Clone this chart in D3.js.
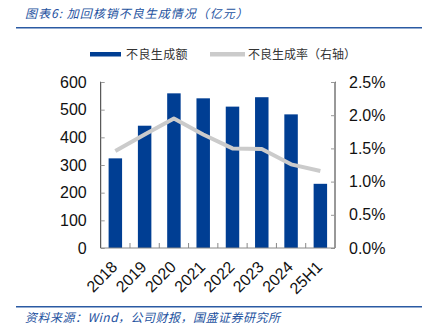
<!DOCTYPE html>
<html>
<head>
<meta charset="utf-8">
<script src="https://cdn.jsdelivr.net/npm/d3@7"></script>
<style>
  html, body { margin: 0; padding: 0; background: #fff; }
  svg { display: block; }
</style>
</head>
<body>
<svg id="chart" width="422" height="327"></svg>
<script>
// Categories and series
const years = ["2018", "2019", "2020", "2021", "2022", "2023", "2024", "25H1"];
const npl = [324, 442, 559, 541, 511, 545, 483, 232];          // 不良生成额（亿元）
const nplRate = [1.46, 1.71, 1.95, 1.71, 1.50, 1.49, 1.26, 1.16]; // 不良生成率（%）
const leftTicks = [0, 100, 200, 300, 400, 500, 600];
const rightTicks = [0, 0.5, 1.0, 1.5, 2.0, 2.5];

const svg = d3.select("#chart");
const numFont = "'Liberation Sans', Arial, sans-serif";
const cjkFont = "'Noto Sans CJK SC', sans-serif";
const blue = "#003E93";
const grey = "#CBCBCB";
const navy = "#2452A0";

const plot = { left: 100.7, right: 335, top: 82, bottom: 248 };

const x = d3.scaleBand().domain(years).range([plot.left, plot.right]).paddingInner(0.54).paddingOuter(0.27);
const xStep = d3.scaleBand().domain(years).range([plot.left, plot.right]);
const yL = d3.scaleLinear().domain([0, 600]).range([plot.bottom, plot.top]);
const yR = d3.scaleLinear().domain([0, 2.5]).range([plot.bottom, plot.top]);

// Title and header rule
svg.append("text")
  .attr("x", 25).attr("y", 17.5)
  .attr("font-family", cjkFont).attr("font-size", 12).attr("font-style", "italic")
  .attr("letter-spacing", 1).attr("fill", navy)
  .text("图表6:  加回核销不良生成情况（亿元）");
svg.append("line").attr("x1", 16).attr("x2", 422).attr("y1", 27.8).attr("y2", 27.8)
  .attr("stroke", "#2B5AA3").attr("stroke-width", 1.6);

// Legend
const lg = svg.append("g");
lg.append("rect").attr("x", 90).attr("y", 52).attr("width", 31).attr("height", 4.5).attr("fill", blue);
lg.append("text").attr("x", 126).attr("y", 58.5).attr("font-family", cjkFont).attr("font-size", 12)
  .attr("letter-spacing", 0.4).attr("fill", "#333").text("不良生成额");
lg.append("rect").attr("x", 210).attr("y", 52).attr("width", 35).attr("height", 4.5).attr("fill", grey);
lg.append("text").attr("x", 248).attr("y", 58.5).attr("font-family", cjkFont).attr("font-size", 12)
  .attr("fill", "#333").text("不良生成率（右轴）");

// Bars
svg.append("g").selectAll("rect").data(npl).join("rect")
  .attr("x", (d, i) => x(years[i]))
  .attr("width", x.bandwidth())
  .attr("y", d => yL(d))
  .attr("height", d => yL(0) - yL(d))
  .attr("fill", blue);

// Rate line (right axis)
const line = d3.line()
  .x((d, i) => xStep(years[i]) + xStep.bandwidth() / 2)
  .y(d => yR(d));
svg.append("path").datum(nplRate)
  .attr("d", line)
  .attr("fill", "none").attr("stroke", grey).attr("stroke-width", 4)
  .attr("stroke-linejoin", "round");

// Left axis
const axL = svg.append("g").attr("transform", `translate(${plot.left},0)`)
  .call(d3.axisLeft(yL).tickValues(leftTicks).tickSize(-4).tickPadding(14).tickFormat(d3.format("d")));
axL.select(".domain").attr("d", `M-0.5,${plot.top}H0V${plot.bottom}`).attr("stroke", "#333");
axL.selectAll(".tick line").attr("stroke", "#999");
axL.selectAll(".tick text").attr("font-family", numFont).attr("font-size", 16).attr("fill", "#111");

// Right axis
const axR = svg.append("g").attr("transform", `translate(${plot.right},0)`)
  .call(d3.axisRight(yR).tickValues(rightTicks).tickSize(-4).tickPadding(14).tickFormat(d => d.toFixed(1) + "%"));
axR.select(".domain").attr("d", `M0.5,${plot.top}H0V${plot.bottom}`).attr("stroke", "#333");
axR.selectAll(".tick line").attr("stroke", "#999");
axR.selectAll(".tick text").attr("font-family", numFont).attr("font-size", 16).attr("fill", "#111");

// Bottom axis with tick marks between categories
const axB = svg.append("g").attr("transform", `translate(0,${plot.bottom})`);
axB.append("line").attr("x1", plot.left).attr("x2", plot.right).attr("y1", 0).attr("y2", 0)
  .attr("stroke", "#888");
axB.selectAll("line.sep").data(years.slice(1)).join("line").attr("class", "sep")
  .attr("x1", d => xStep(d)).attr("x2", d => xStep(d)).attr("y1", 0).attr("y2", -5)
  .attr("stroke", "#888");
axB.selectAll("text").data(years).join("text")
  .attr("transform", d => `translate(${xStep(d) + xStep.bandwidth() / 2 + 3},20) rotate(-45)`)
  .attr("text-anchor", "end")
  .attr("font-family", numFont).attr("font-size", 16).attr("fill", "#111")
  .text(d => d);

// Footer rule and source
svg.append("line").attr("x1", 16).attr("x2", 422).attr("y1", 306.7).attr("y2", 306.7)
  .attr("stroke", "#2B5AA3").attr("stroke-width", 1.6);
svg.append("text")
  .attr("x", 25).attr("y", 322)
  .attr("font-family", cjkFont).attr("font-size", 12).attr("font-style", "italic")
  .attr("letter-spacing", 0.5).attr("fill", navy)
  .text("资料来源：Wind，公司财报，国盛证券研究所");
</script>
</body>
</html>
